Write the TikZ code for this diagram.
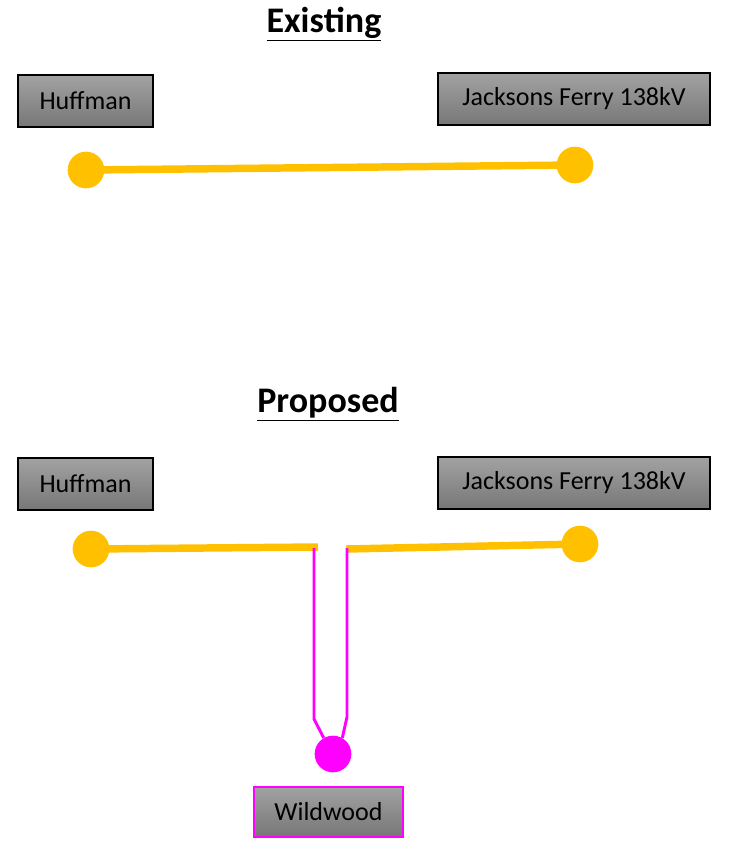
\documentclass[tikz,border=0pt]{standalone}
\usepackage{fontspec}
\setmainfont{Carlito}
\usepackage{xcolor}
\usetikzlibrary{positioning,calc}
\definecolor{lineyellow}{HTML}{FFC000}
\definecolor{tapmagenta}{HTML}{FF00FF}
\definecolor{boxtop}{HTML}{A2A2A2}
\definecolor{boxbottom}{HTML}{777777}
\tikzset{
  stationbox/.style={
    rectangle, draw=#1, line width=1pt, top color=boxtop, bottom color=boxbottom,
    minimum height=39pt, inner sep=0pt, font=\fontsize{19.5}{23}\selectfont
  },
  stationbox/.default=black,
  busdot/.style={circle, fill=#1, draw=none, minimum size=27.5pt, inner sep=0pt},
  busdot/.default=lineyellow,
  feedline/.style={lineyellow, line width=5.6pt},
  tapline/.style={tapmagenta, line width=2.2pt},
  heading/.style={font=\fontsize{27}{32}\selectfont\bfseries}
}
\begin{document}
\begin{tikzpicture}[x=0.75pt,y=-0.75pt]
\useasboundingbox (0,0) rectangle (730,844);

% existing line
\node[heading] (existing) at (324,24) {\underline{Exis\kern0pt ting}};
\node[stationbox, minimum width=101.25pt] (huffmanA) at (85.5,101) {Huffman};
\node[stationbox, minimum width=204pt] (jacksonsA) at (574,99) {Jacksons Ferry 138kV};
\node[busdot] (hufdotA) at (86,170) {};
\node[busdot] (jfdotA) at (575,165) {};
\draw[feedline] (hufdotA.center) -- (jfdotA.center);

% proposed tap
\node[heading] (proposed) at (328,404) {\underline{Proposed}};
\node[stationbox, minimum width=101.25pt] (huffmanB) at (85.5,484) {Huffman};
\node[stationbox, minimum width=204pt] (jacksonsB) at (574,483) {Jacksons Ferry 138kV};
\node[busdot] (hufdotB) at (91,549) {};
\node[busdot] (jfdotB) at (580,544) {};
\node[busdot=tapmagenta] (wwdot) at (333,754) {};
\node[stationbox=tapmagenta, line width=1.5pt, minimum width=112pt, minimum height=37.5pt] (wildwood) at (328.5,811.5) {Wildwood};

\coordinate (openL) at (318,547);
\coordinate (openR) at (346,549);
\coordinate (tapLtop) at (314,548);
\coordinate (tapLbend) at (314,719);
\coordinate (tapRtop) at (347,548);
\coordinate (tapRbend) at (347,717);

\draw[feedline] (hufdotB.center) -- (openL);
\draw[feedline] (openR) -- (jfdotB.center);
\draw[tapline] (tapLtop) -- (tapLbend) -- (wwdot.120);
\draw[tapline] (tapRtop) -- (tapRbend) -- (wwdot.60);
\end{tikzpicture}
\end{document}
